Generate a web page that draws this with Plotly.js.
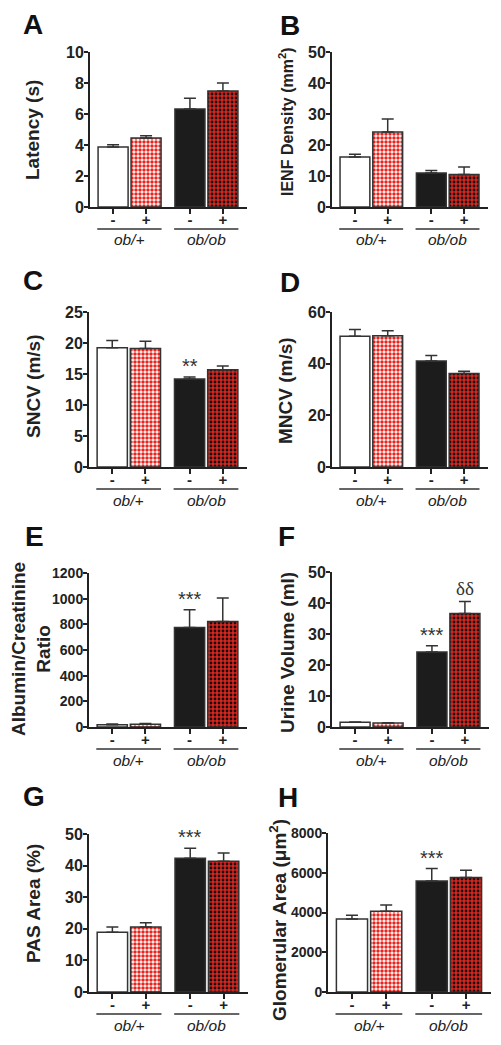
<!DOCTYPE html>
<html>
<head>
<meta charset="utf-8">
<script src="https://cdn.plot.ly/plotly-3.0.1.min.js"></script>
<style>html,body{margin:0;padding:0;background:#fff;}#chart{width:501px;height:1045px;}</style>
</head>
<body>
<div id="chart"></div>
<script>
// ---------- data ----------
const groups = ['ob/+', 'ob/ob'];
const treatments = ['-', '+'];

const latency      = [3.87, 4.45, 6.32, 7.48];
const latencyErr   = [0.15, 0.15, 0.70, 0.52];
const ienf         = [16.1, 24.2, 11.0, 10.5];
const ienfErr      = [0.9, 4.2, 0.8, 2.4];
const sncv         = [19.25, 19.1, 14.2, 15.7];
const sncvErr      = [1.15, 1.2, 0.3, 0.6];
const mncv         = [50.6, 50.8, 41.0, 36.2];
const mncvErr      = [2.6, 1.9, 2.2, 0.9];
const acr          = [18, 22, 776, 823];
const acrErr       = [5, 5, 138, 183];
const urine        = [1.5, 1.3, 24.2, 36.6];
const urineErr     = [0.1, 0.1, 2.0, 3.9];
const pas          = [18.9, 20.6, 42.3, 41.4];
const pasErr       = [1.7, 1.3, 3.2, 2.6];
const glom         = [3670, 4060, 5590, 5755];
const glomErr      = [190, 320, 620, 370];

// significance marks: [bar index, text]
const marksC = [[2, '**']];
const marksE = [[2, '***']];
const marksF = [[2, '***'], [3, 'δδ']];
const marksG = [[2, '***']];
const marksH = [[2, '***']];

// ---------- layout helpers ----------
const W = 501, H = 1045;
const FONT = 'Liberation Sans, Arial, sans-serif';
const GAP = 0.33;
const xpos = [];
const xlab = [];
groups.forEach((g, gi) => treatments.forEach((t, ti) => { xpos.push(gi * (2 + GAP) + ti); xlab.push(t); }));
const xRange = [-0.7, 4.06];

const panels = [
  {L:'A', y:latency, e:latencyErr, title:'Latency (s)', tsize:19, ymax:10, dtick:2, tick:16,
   px:[90,247], py:[52,207], lp:[33,24], tp:[33,130], marks:[]},
  {L:'B', y:ienf, e:ienfErr, title:'IENF Density (mm<sup>2</sup>)', tsize:16, ymax:50, dtick:10, tick:16,
   px:[332,488], py:[52,207], lp:[290,25], tp:[286,122], marks:[]},
  {L:'C', y:sncv, e:sncvErr, title:'SNCV (m/s)', tsize:19, ymax:25, dtick:5, tick:16,
   px:[89,247], py:[312,467], lp:[33,280], tp:[33,387], marks:marksC},
  {L:'D', y:mncv, e:mncvErr, title:'MNCV (m/s)', tsize:19, ymax:60, dtick:20, tick:16,
   px:[332,488], py:[312,467], lp:[290,282], tp:[286,391], marks:[]},
  {L:'E', y:acr, e:acrErr, title:'Albumin/Creatinine<br>Ratio', tsize:19, ymax:1200, dtick:200, tick:14,
   px:[89,247], py:[573,727], lp:[34,536], tp:[31,649], marks:marksE},
  {L:'F', y:urine, e:urineErr, title:'Urine Volume (ml)', tsize:19, ymax:50, dtick:10, tick:16,
   px:[332,489], py:[572,727], lp:[286,536], tp:[287,653], marks:marksF},
  {L:'G', y:pas, e:pasErr, title:'PAS Area (%)', tsize:19, ymax:50, dtick:10, tick:16,
   px:[89,248], py:[834,992], lp:[34,796], tp:[33,904], marks:marksG},
  {L:'H', y:glom, e:glomErr, title:'Glomerular Area (μm<sup>2</sup>)', tsize:19, ymax:8000, dtick:2000, tick:14,
   px:[328,491], py:[833,992], lp:[288,797], tp:[278,920], marks:marksH},
];

const fx = p => p / W;
const fy = p => 1 - p / H;

// bar styles for the four conditions
const styles = [
  {color: '#ffffff', shape: '',  fg: '#ffffff', bg: '#ffffff', sol: 0.5},
  {color: '#ffffff', shape: '.', fg: '#e5261f', bg: '#ffffff', sol: 0.6},
  {color: '#1c1c1c', shape: '',  fg: '#1c1c1c', bg: '#1c1c1c', sol: 0.5},
  {color: '#d8261f', shape: '.', fg: '#1a0c0c', bg: '#d8261f', sol: 0.4},
];
const AX = '#222222';

const data = [];
const layout = {
  width: W, height: H,
  margin: {l:0, r:0, t:0, b:0},
  paper_bgcolor: '#ffffff', plot_bgcolor: 'rgba(0,0,0,0)',
  showlegend: false,
  font: {family: FONT, color: AX},
  barmode: 'overlay',
  annotations: [], shapes: []
};

panels.forEach((p, i) => {
  const n = i + 1;
  const xa = 'x' + (n === 1 ? '' : n), ya = 'y' + (n === 1 ? '' : n);
  const xk = 'xaxis' + (n === 1 ? '' : n), yk = 'yaxis' + (n === 1 ? '' : n);
  styles.forEach((s, k) => {
    const tr = {
      type: 'bar', x: [xpos[k]], y: [p.y[k]], xaxis: xa, yaxis: ya, width: 0.91,
      marker: {color: s.color, line: {color: '#333333', width: 1.5}},
      error_y: {type: 'data', symmetric: false, array: [p.e[k]], arrayminus: [0],
                color: '#333333', thickness: 1.5, width: 6},
      hoverinfo: 'skip'
    };
    if (s.shape) tr.marker.pattern = {shape: s.shape, fgcolor: s.fg, bgcolor: s.bg, size: 4, solidity: s.sol, fillmode: 'replace'};
    data.push(tr);
  });
  layout[xk] = {
    domain: [fx(p.px[0]), fx(p.px[1])], anchor: ya, range: xRange,
    showline: true, linecolor: AX, linewidth: 2, showgrid: false, zeroline: false,
    ticks: 'outside', ticklen: 5, tickwidth: 2, tickcolor: AX,
    tickvals: xpos, ticktext: xlab, ticklabelstandoff: -7,
    tickfont: {family: FONT, size: 15, weight: 'bold', color: AX}, fixedrange: true
  };
  layout[yk] = {
    domain: [fy(p.py[1]), fy(p.py[0])], anchor: xa, range: [0, p.ymax], dtick: p.dtick,
    showline: true, linecolor: AX, linewidth: 2, showgrid: false, zeroline: false,
    ticks: 'outside', ticklen: 4, tickwidth: 2, tickcolor: AX, ticklabelstandoff: -3,
    tickfont: {family: FONT, size: p.tick, weight: 'bold', color: AX}, fixedrange: true
  };
  // panel letter
  layout.annotations.push({text: p.L, xref: 'paper', yref: 'paper', x: fx(p.lp[0]), y: fy(p.lp[1]),
    xanchor: 'center', yanchor: 'middle', showarrow: false,
    font: {family: FONT, size: 28, weight: 'bold', color: '#111'}});
  // y title
  layout.annotations.push({text: p.title, xref: 'paper', yref: 'paper', x: fx(p.tp[0]), y: fy(p.tp[1]),
    xanchor: 'center', yanchor: 'middle', textangle: -90, showarrow: false,
    font: {family: FONT, size: p.tsize, weight: 'bold', color: AX}});
  // group underlines and labels
  groups.forEach((g, gi) => {
    const a = xpos[gi * 2], b = xpos[gi * 2 + 1];
    layout.shapes.push({type: 'line', xref: xa, yref: 'paper', x0: a - 0.48, x1: b + 0.47,
      y0: fy(p.py[1] + 22), y1: fy(p.py[1] + 22), line: {color: '#333', width: 1.5}});
    layout.annotations.push({text: g, xref: xa, yref: 'paper', x: (a + b) / 2, y: fy(p.py[1] + 33),
      xanchor: 'center', yanchor: 'middle', showarrow: false,
      font: {family: FONT, size: 15.5, style: 'italic', color: AX}});
  });
  // significance marks
  p.marks.forEach(([bi, txt]) => {
    const isDelta = txt.indexOf('δ') >= 0;
    layout.annotations.push({text: txt, xref: xa, yref: ya, x: xpos[bi], y: p.y[bi] + p.e[bi],
      xanchor: 'center', yanchor: 'bottom', yshift: isDelta ? 0 : -2, showarrow: false,
      font: {family: isDelta ? 'Liberation Serif, Times New Roman, serif' : FONT, size: isDelta ? 19 : 20, color: '#333'}});
  });
});

Plotly.newPlot('chart', data, layout, {staticPlot: true, displayModeBar: false});
</script>
</body>
</html>
